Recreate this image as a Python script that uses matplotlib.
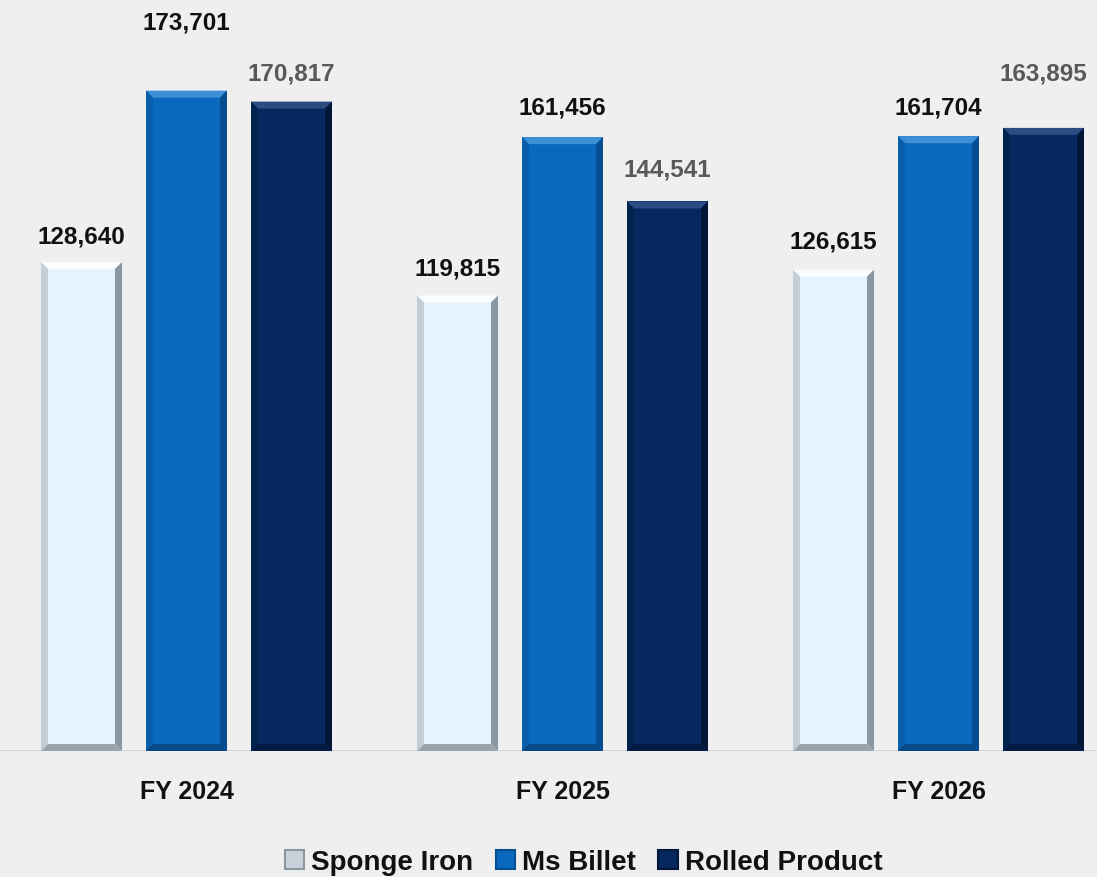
import matplotlib

matplotlib.use("Agg")

import matplotlib.pyplot as plt
import numpy as np
from matplotlib.patches import Polygon, Rectangle

# data
years = ["FY 2024", "FY 2025", "FY 2026"]
series_names = ["Sponge Iron", "Ms Billet", "Rolled Product"]
sponge_iron = [128640, 119815, 126615]
ms_billet = [173701, 161456, 161704]
rolled_product = [170817, 144541, 163895]

# style
FACE = ["#E6F3FC", "#0869BE", "#05285F"]
TOP = ["#FAFDFF", "#3E90D6", "#2B4C80"]
LEFT = ["#C4CED7", "#0A5FAA", "#05234F"]
RIGHT = ["#8A96A1", "#054E8F", "#02163A"]
BOTTOM = ["#98A3AD", "#064A86", "#031A44"]
LABEL_COLOR = ["#111111", "#111111", "#595959"]
# extra lift of each value label above its bar, in pixels (per series, per year)
LABEL_LIFT = [[26, 27, 29], [69, 30, 29], [29, 32, 55]]
BG = "#EFEFEF"

plt.rcParams["font.family"] = ["Liberation Sans", "DejaVu Sans"]

fig = plt.figure(figsize=(10.97, 8.78), dpi=100, facecolor=BG)
ax = fig.add_axes([0, 126 / 878, 1, 752 / 878])
ax.set_facecolor(BG)

x = np.arange(len(years))
step = 105 / 376
width = 81 / 376
ax.set_xlim(-186.5 / 376, (1097 - 186.5) / 376)
ymax = 197800
ax.set_ylim(0, ymax)

px_x = 1 / 376
px_y = ymax / 752
bev_x = 7 * px_x
bev_y = 7 * px_y

values = [sponge_iron, ms_billet, rolled_product]
for s, vals in enumerate(values):
    xs = x + (s - 1) * step
    bars = ax.bar(xs, vals, width=width, color=FACE[s], linewidth=0, zorder=2)
    for bar, v, lift in zip(bars, vals, LABEL_LIFT[s]):
        x0 = bar.get_x()
        x1 = x0 + bar.get_width()
        y1 = bar.get_height()
        pieces = [
            ([(x0, y1), (x1, y1), (x1 - bev_x, y1 - bev_y), (x0 + bev_x, y1 - bev_y)], TOP[s]),
            ([(x0, 0), (x0, y1), (x0 + bev_x, y1 - bev_y), (x0 + bev_x, bev_y)], LEFT[s]),
            ([(x1, 0), (x1, y1), (x1 - bev_x, y1 - bev_y), (x1 - bev_x, bev_y)], RIGHT[s]),
            ([(x0, 0), (x1, 0), (x1 - bev_x, bev_y), (x0 + bev_x, bev_y)], BOTTOM[s]),
        ]
        for pts, col in pieces:
            ax.add_patch(Polygon(pts, closed=True, facecolor=col, edgecolor="none", zorder=3))
        ax.annotate(f"{v:,}", (bar.get_x() + bar.get_width() / 2, v), xytext=(0, lift * 0.72),
                    textcoords="offset points", ha="center", va="center", fontsize=17.5,
                    fontweight="bold", color=LABEL_COLOR[s], annotation_clip=False, zorder=4)

ax.axhline(0, color="#D0D0D0", linewidth=1.2, zorder=1)
for spine in ax.spines.values():
    spine.set_visible(False)
ax.set_yticks([])
ax.set_xticks(x)
ax.set_xticklabels(years, fontsize=18, fontweight="bold", color="#111111")
ax.tick_params(axis="x", length=0, pad=20)

handles = [Rectangle((0, 0), 1, 1, facecolor=FACE[i], edgecolor=RIGHT[i], linewidth=1.5) for i in range(3)]
handles[0].set_facecolor("#C9D2DA")
fig.legend(handles, series_names, loc="center", bbox_to_anchor=(0.532, 15 / 878), ncol=3,
           frameon=False, prop={"size": 20, "weight": "bold"}, handlelength=0.7, handleheight=0.7,
           handletextpad=0.25, columnspacing=0.8, labelcolor="#111111")

fig.savefig("out.png", dpi=100, facecolor=BG)
